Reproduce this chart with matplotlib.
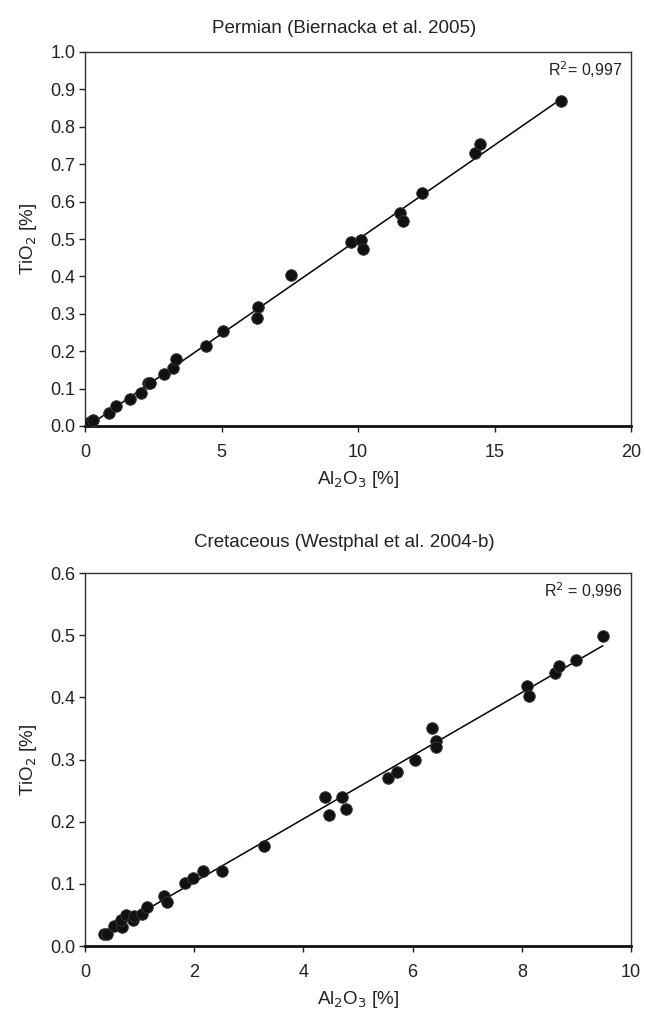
import matplotlib
matplotlib.use("Agg")
import matplotlib.pyplot as plt
import numpy as np

plt.rcParams['font.family'] = ['Liberation Sans', 'DejaVu Sans']

# Permian (Biernacka et al. 2005)
perm_al2o3 = [0.18, 0.30, 0.88, 1.13, 1.66, 2.04, 2.30, 2.39, 2.88, 3.21, 3.35,
              4.44, 5.05, 6.34, 6.31, 7.55, 9.73, 10.12, 10.19, 11.54, 11.64,
              12.33, 14.28, 14.47, 17.42]
perm_tio2 = [0.010, 0.015, 0.035, 0.053, 0.071, 0.089, 0.114, 0.116, 0.138, 0.155,
             0.178, 0.214, 0.253, 0.319, 0.290, 0.403, 0.492, 0.498, 0.474, 0.570,
             0.548, 0.624, 0.731, 0.753, 0.870]
perm_r2 = "0,997"

# Cretaceous (Westphal et al. 2004-b)
cret_al2o3 = [0.34, 0.41, 0.53, 0.67, 0.66, 0.75, 0.88, 0.90, 1.04, 1.14, 1.45,
              1.51, 1.84, 1.97, 2.17, 2.50, 3.27, 4.40, 4.47, 4.70, 4.78, 5.55,
              5.71, 6.04, 6.35, 6.43, 6.43, 8.10, 8.14, 8.61, 8.69, 9.00, 9.48]
cret_tio2 = [0.020, 0.020, 0.032, 0.031, 0.042, 0.050, 0.042, 0.048, 0.051, 0.062,
             0.081, 0.071, 0.101, 0.110, 0.121, 0.121, 0.161, 0.239, 0.210, 0.239,
             0.220, 0.270, 0.280, 0.299, 0.351, 0.330, 0.320, 0.419, 0.402, 0.439,
             0.450, 0.460, 0.499]
cret_r2 = "0,996"


def scatter_panel(ax, x, y, title, r2, xlim, xticks, ylim, yticks, r2_text, title_pad):
    x = np.array(x)
    y = np.array(y)
    ax.plot(x, y, 'o', color='#111111', markersize=8.3, markeredgecolor='#333333',
            markeredgewidth=0.7, zorder=3)

    # linear trend line over the data range
    slope, intercept = np.polyfit(x, y, 1)
    xs = np.array([x.min(), x.max()])
    ax.plot(xs, slope * xs + intercept, color='black', linewidth=1.1, zorder=2)

    ax.set_xlim(*xlim)
    ax.set_ylim(*ylim)
    ax.set_xticks(xticks)
    ax.set_yticks(yticks)
    ax.set_yticklabels([f"{v:.1f}" for v in yticks])
    ax.tick_params(direction='out', length=4, width=1, labelsize=13, colors='#222222')
    ax.tick_params(axis='x', pad=9)
    ax.tick_params(axis='y', pad=3)
    for side in ['top', 'right', 'left']:
        ax.spines[side].set_linewidth(1.0)
        ax.spines[side].set_color('#333333')
    ax.spines['bottom'].set_linewidth(2.0)
    ax.spines['bottom'].set_color('#111111')

    ax.set_title(title, fontsize=13.5, pad=title_pad, color='#222222', x=0.475)
    ax.set_xlabel(r'Al$_2$O$_3$ [%]', fontsize=13.5, labelpad=6, color='#222222')
    ax.set_ylabel(r'TiO$_2$ [%]', fontsize=13.5, labelpad=8, color='#222222')
    ax.text(0.985, 0.98, r2_text + r2, transform=ax.transAxes, ha='right', va='top',
            fontsize=11.5, color='#222222')


fig = plt.figure(figsize=(6.45, 10.21), dpi=100)
ax1 = fig.add_axes([85 / 645, 1 - 426 / 1021, 546 / 645, 374 / 1021])
ax2 = fig.add_axes([85 / 645, 1 - 946 / 1021, 546 / 645, 373 / 1021])

scatter_panel(ax1, perm_al2o3, perm_tio2, 'Permian (Biernacka et al. 2005)', perm_r2,
              (0, 20), [0, 5, 10, 15, 20], (0, 1.0), np.round(np.arange(0, 1.01, 0.1), 1),
              r'R$^2$= ', 14)
scatter_panel(ax2, cret_al2o3, cret_tio2, 'Cretaceous (Westphal et al. 2004-b)', cret_r2,
              (0, 10), [0, 2, 4, 6, 8, 10], (0, 0.6), np.round(np.arange(0, 0.61, 0.1), 1),
              r'R$^2$ = ', 19)

fig.savefig('out.png', dpi=100)
